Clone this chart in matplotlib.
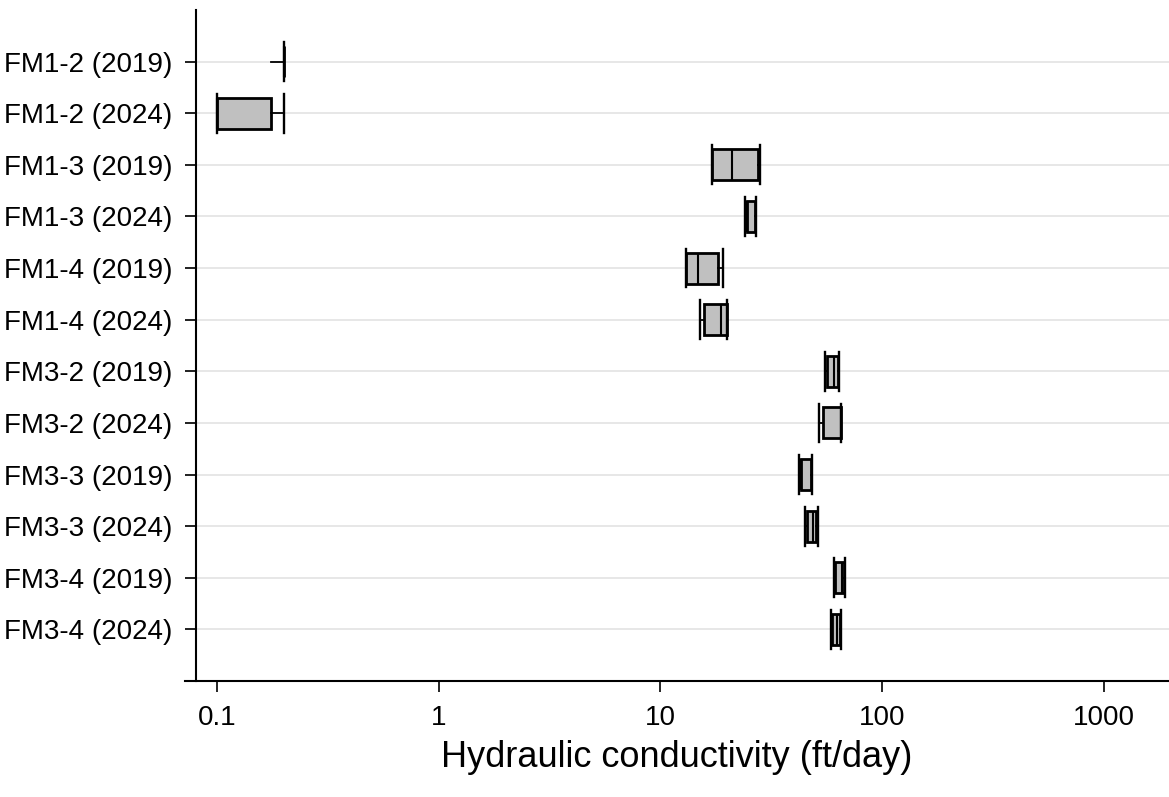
import matplotlib
matplotlib.use("Agg")
import matplotlib.pyplot as plt
from matplotlib.ticker import FixedLocator, NullLocator

# Well/year labels, top to bottom
labels = [
    "FM1-2 (2019)", "FM1-2 (2024)", "FM1-3 (2019)", "FM1-3 (2024)",
    "FM1-4 (2019)", "FM1-4 (2024)", "FM3-2 (2019)", "FM3-2 (2024)",
    "FM3-3 (2019)", "FM3-3 (2024)", "FM3-4 (2019)", "FM3-4 (2024)",
]
# box statistics (ft/day)
whislo = [0.175, 0.1, 17.1, 24.0, 13.1, 15.1, 55.4, 51.7, 42.2, 45.0, 60.5, 58.6]
q1 = [0.2, 0.1, 17.1, 24.6, 13.1, 15.8, 56.6, 54.3, 43.1, 46.0, 61.3, 59.3]
med = [0.2, 0.1, 21.1, 24.6, 14.7, 18.8, 60.8, 65.1, 43.1, 48.9, 65.9, 62.4]
q3 = [0.2, 0.175, 27.5, 26.7, 18.2, 20.0, 63.0, 65.1, 47.8, 50.2, 67.3, 64.8]
whishi = [0.2, 0.2, 28.1, 27.1, 19.1, 20.0, 63.6, 65.1, 48.5, 51.2, 68.2, 65.5]

xticks = [0.1, 1, 10, 100, 1000]
xticklabels = ["0.1", "1", "10", "100", "1000"]

plt.rcParams["font.family"] = ["Liberation Sans", "DejaVu Sans"]

fig = plt.figure(figsize=(11.69, 7.97), dpi=100)
ax = fig.add_axes([185 / 1169, 116 / 797, 984 / 1169, 671 / 797])

stats = []
for i, lab in enumerate(labels):
    stats.append(dict(label=lab, whislo=whislo[i], q1=q1[i], med=med[i],
                      q3=q3[i], whishi=whishi[i], fliers=[]))

pos = list(range(1, len(labels) + 1))
bp = ax.bxp(stats, positions=pos, vert=False, widths=0.6, capwidths=0.75,
            patch_artist=True, showfliers=False,
            boxprops=dict(facecolor="#c0c0c0", edgecolor="black", linewidth=2.0),
            whiskerprops=dict(color="black", linewidth=1.3),
            capprops=dict(color="black", linewidth=1.7),
            medianprops=dict(color="black", linewidth=1.5))
# FM1-2 (2019) has no lower cap in the original
bp["caps"][0].set_visible(False)

ax.set_xscale("log")
ax.set_xlim(0.0717, 1968)
ax.set_ylim(13, 0)

ax.xaxis.set_major_locator(FixedLocator(xticks))
ax.xaxis.set_minor_locator(NullLocator())
ax.set_xticklabels(xticklabels)
ax.set_yticks(pos)
ax.set_yticklabels(labels)

ax.grid(axis="y", color="#e3e3e3", linewidth=1.2, zorder=0)
ax.set_axisbelow(True)

for s in ["top", "right"]:
    ax.spines[s].set_visible(False)
ax.spines["left"].set_position(("data", 0.0804))
ax.spines["left"].set_linewidth(1.5)
ax.spines["bottom"].set_linewidth(1.5)

ax.tick_params(axis="y", length=8, width=1.2, labelsize=20, pad=9)
ax.tick_params(axis="x", length=8, width=1.2, labelsize=20, pad=9)

ax.set_xlabel("Hydraulic conductivity (ft/day)", fontsize=26, labelpad=7)

fig.savefig("out.png", dpi=100)
